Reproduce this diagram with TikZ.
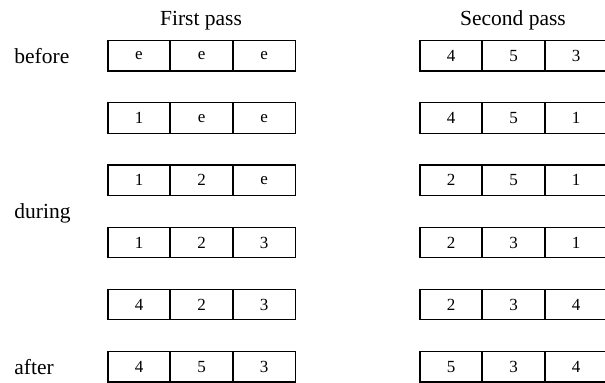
\documentclass[tikz,border=0pt]{standalone}
\usepackage{fontspec}
\setmainfont{Liberation Serif}
\usetikzlibrary{positioning}
\tikzstyle{cell} = [rectangle, minimum width=31pt, minimum height=15.2pt, inner sep=0pt, outer sep=0pt, text centered, draw=black, line width=0.6pt, font=\fontsize{8.5}{10}\selectfont]
\tikzstyle{passlabel} = [anchor=base, inner sep=0pt, font=\fontsize{10.75}{13}\selectfont]
\tikzstyle{rowlabel} = [anchor=base west, inner sep=0pt, font=\fontsize{10.75}{13}\selectfont]

\begin{document}
\begin{tikzpicture}[x=0.5pt, y=-0.5pt, node distance=0.3pt]
\useasboundingbox (0,0) rectangle (605,383);
% Column and row titles
\node[passlabel] (firstpass) at (201,25.7) {First pass};
\node[passlabel] (secondpass) at (513,25.7) {Second pass};
\node[rowlabel] (before) at (14,64) {before};
\node[rowlabel] (during) at (14,219) {during};
\node[rowlabel] (after) at (14,375) {after};

% First pass
\node[cell] (fa1) at (139,55.9) {e};
\node[cell, right=of fa1] (fb1) {e};
\node[cell, right=of fb1] (fc1) {e};
\node[cell] (fa2) at (139,118.1) {1};
\node[cell, right=of fa2] (fb2) {e};
\node[cell, right=of fb2] (fc2) {e};
\node[cell] (fa3) at (139,180.3) {1};
\node[cell, right=of fa3] (fb3) {2};
\node[cell, right=of fb3] (fc3) {e};
\node[cell] (fa4) at (139,242.5) {1};
\node[cell, right=of fa4] (fb4) {2};
\node[cell, right=of fb4] (fc4) {3};
\node[cell] (fa5) at (139,304.7) {4};
\node[cell, right=of fa5] (fb5) {2};
\node[cell, right=of fb5] (fc5) {3};
\node[cell] (fa6) at (139,366.9) {4};
\node[cell, right=of fa6] (fb6) {5};
\node[cell, right=of fb6] (fc6) {3};

% Second pass
\node[cell] (sa1) at (451,55.9) {4};
\node[cell, right=of sa1] (sb1) {5};
\node[cell, right=of sb1] (sc1) {3};
\node[cell] (sa2) at (451,118.1) {4};
\node[cell, right=of sa2] (sb2) {5};
\node[cell, right=of sb2] (sc2) {1};
\node[cell] (sa3) at (451,180.3) {2};
\node[cell, right=of sa3] (sb3) {5};
\node[cell, right=of sb3] (sc3) {1};
\node[cell] (sa4) at (451,242.5) {2};
\node[cell, right=of sa4] (sb4) {3};
\node[cell, right=of sb4] (sc4) {1};
\node[cell] (sa5) at (451,304.7) {2};
\node[cell, right=of sa5] (sb5) {3};
\node[cell, right=of sb5] (sc5) {4};
\node[cell] (sa6) at (451,366.9) {5};
\node[cell, right=of sa6] (sb6) {3};
\node[cell, right=of sb6] (sc6) {4};
\end{tikzpicture}
\end{document}
